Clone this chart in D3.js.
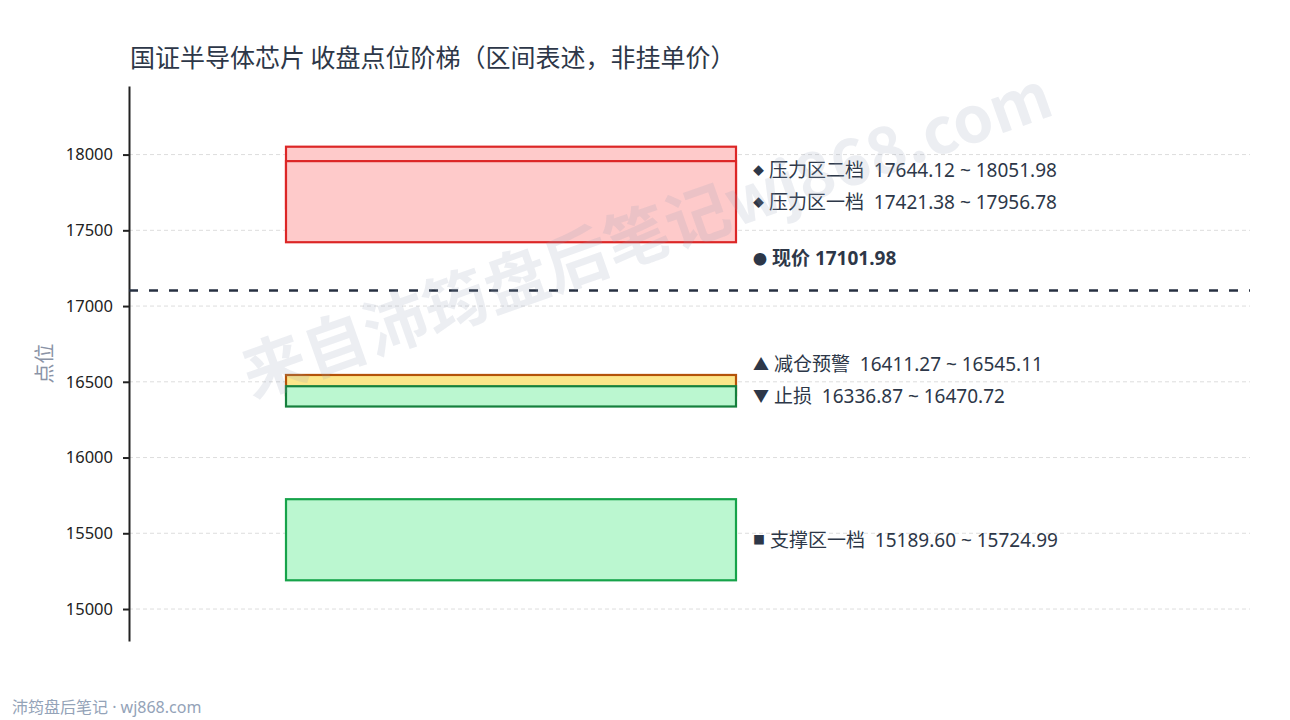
<!DOCTYPE html>
<html>
<head>
<meta charset="utf-8">
<script src="https://cdn.jsdelivr.net/npm/d3@7"></script>
<style>
  body{margin:0;background:#fff;}
  svg{display:block;font-family:"Noto Sans","Noto Sans CJK SC",sans-serif;}
  text{white-space:pre;}
</style>
</head>
<body>
<svg width="1290" height="720"></svg>
<script>
const svg=d3.select('svg');
const width=+svg.attr('width');
const height=+svg.attr('height');

// zones, drawn in this order
const zoneNames=['压力区二档','压力区一档','减仓预警','止损','支撑区一档'];
const zoneLow =[17644.12,17421.38,16411.27,16336.87,15189.60];
const zoneHigh=[18051.98,17956.78,16545.11,16470.72,15724.99];
const zoneMark=['◆','◆','▲','▼','■'];
const zoneKind=['res','res','warn','stop','sup'];
const price=17101.98;
const yTicks=[15000,15500,16000,16500,17000,17500,18000];

const fills={res:'#fecaca',warn:'#fde68a',stop:'#bbf7d0',sup:'#bbf7d0'};
const strokes={res:'#dc2626',warn:'#b45309',stop:'#15803d',sup:'#16a34a'};
const markSize={'◆':11,'▲':16,'▼':16,'■':12,'●':14};

const margin={top:86,bottom:79,left:129,right:40};
const plotRight=width-margin.right;
const boxX0=286, boxX1=736;

const lo=d3.min(zoneLow), hi=d3.max(zoneHigh), pad=(hi-lo)*0.14;
const y=d3.scaleLinear()
  .domain([lo-pad,hi+pad])
  .range([height-margin.bottom,margin.top]);

// title
svg.append('text')
  .attr('x',130).attr('y',67)
  .attr('font-size',25).attr('fill','#2d3748')
  .attr('font-family','"Noto Sans CJK SC",sans-serif')
  .text('国证半导体芯片 收盘点位阶梯（区间表述，非挂单价）');

// grid
svg.append('g').selectAll('line').data(yTicks).join('line')
  .attr('x1',margin.left).attr('x2',plotRight)
  .attr('y1',d=>y(d)).attr('y2',d=>y(d))
  .attr('stroke','#dddddd').attr('stroke-dasharray','4,3').attr('stroke-width',1);

// y axis
const yAxis=svg.append('g')
  .attr('transform',`translate(${margin.left},0)`)
  .call(d3.axisLeft(y).tickValues(yTicks).tickFormat(d3.format('d')).tickSizeInner(6).tickSizeOuter(0).tickPadding(10));
yAxis.select('.domain').attr('stroke','#222').attr('stroke-width',2);
yAxis.selectAll('.tick line').attr('stroke','#222').attr('stroke-width',2);
yAxis.selectAll('.tick text').attr('font-size',16.5).attr('fill','#222')
  .attr('font-family','"Noto Sans","Noto Sans CJK SC",sans-serif');

svg.append('text')
  .attr('transform',`translate(52,${(margin.top+height-margin.bottom)/2}) rotate(-90)`)
  .attr('text-anchor','middle')
  .attr('font-size',20).attr('fill','#8a93a6')
  .text('点位');

// zone boxes
const zones=zoneNames.map((n,i)=>({name:n,low:zoneLow[i],high:zoneHigh[i],mark:zoneMark[i],kind:zoneKind[i]}));
svg.append('g').selectAll('rect').data(zones).join('rect')
  .attr('x',boxX0).attr('width',boxX1-boxX0)
  .attr('y',d=>y(d.high)).attr('height',d=>y(d.low)-y(d.high))
  .attr('fill',d=>fills[d.kind]).attr('stroke',d=>strokes[d.kind]).attr('stroke-width',2.2);

// current price line
svg.append('line')
  .attr('x1',margin.left).attr('x2',plotRight)
  .attr('y1',y(price)).attr('y2',y(price))
  .attr('stroke','#273142').attr('stroke-width',2.5).attr('stroke-dasharray','9,11');

// labels: centred on zone, pushed up to avoid overlap
const gap=32;
const order=zones.map((d,i)=>i).sort((a,b)=>zones[a].low-zones[b].low);
let prev=Infinity;
order.forEach(i=>{
  const d=zones[i];
  let ly=y((d.low+d.high)/2);
  if(ly>prev-gap) ly=prev-gap;
  d.ly=ly; prev=ly;
});
const f2=d3.format('.2f');
const lab=svg.append('g').selectAll('text').data(zones).join('text')
  .attr('x',753).attr('y',d=>d.ly)
  .attr('dominant-baseline','central')
  .attr('font-size',19).attr('fill','#2d3748');
lab.append('tspan').attr('font-size',d=>markSize[d.mark]).text(d=>d.mark);
lab.append('tspan').text(d=>` ${d.name}  ${f2(d.low)} ~ ${f2(d.high)}`);

const pl=svg.append('text')
  .attr('x',753).attr('y',y(price)-33)
  .attr('dominant-baseline','central')
  .attr('font-size',19).attr('font-weight','bold').attr('fill','#2d3748');
pl.append('tspan').attr('font-size',markSize['●']).text('●');
pl.append('tspan').text(` 现价 ${f2(price)}`);

// watermark
svg.append('text')
  .attr('transform','translate(645,230) rotate(-19.5)')
  .attr('text-anchor','middle').attr('dominant-baseline','central')
  .attr('font-size',64).attr('font-weight','bold')
  .attr('font-family','"Noto Sans CJK SC","Noto Sans",sans-serif')
  .attr('fill','#94a3b8').attr('fill-opacity',0.18)
  .text('来自沛筠盘后笔记wj868.com');

// footer
svg.append('text')
  .attr('x',12).attr('y',713)
  .attr('font-size',16).attr('fill','#94a3b8')
  .text('沛筠盘后笔记 · wj868.com');
</script>
</body>
</html>
